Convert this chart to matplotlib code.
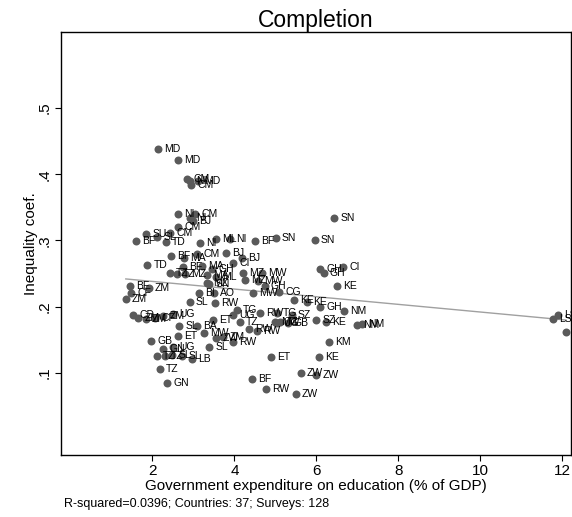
import matplotlib.pyplot as plt

plt.rcParams['font.family'] = ['Liberation Sans', 'DejaVu Sans']

# government expenditure on education (% of GDP), one entry per survey
exp_gdp = [2.13, 2.62, 2.84, 2.91, 3.11, 2.94, 2.62, 3.04, 2.91, 2.99,
           2.62, 1.84, 2.11, 2.43, 1.60, 2.33, 3.16, 3.55, 3.89, 4.50,
           5.01, 5.96, 6.43,
           2.45, 2.77, 3.09, 1.87, 2.43, 2.79, 2.60, 2.74, 3.21, 3.45,
           3.55, 3.33, 3.33, 3.38, 1.45, 1.91, 1.48, 1.35, 3.13, 3.50,
           2.91, 3.52, 1.52, 1.65, 1.84, 2.06, 2.50, 2.26, 2.65, 3.09,
           3.48,
           4.18, 3.96, 3.79, 4.21, 4.26, 4.67, 4.57, 4.74, 4.45, 5.09,
           5.45, 5.77, 6.09, 6.67, 6.09, 6.18, 6.65, 6.50, 4.06, 4.62,
           5.04, 5.40, 3.96, 4.13, 5.05, 5.30, 4.99, 5.11, 5.99, 6.23,
           6.99, 7.11, 3.96, 4.35, 4.55, 6.30, 4.89, 6.06, 5.62, 5.99,
           4.43, 4.77, 5.50,
           2.62, 1.96, 3.26, 3.55, 3.72, 2.50, 3.38, 2.26, 2.11, 2.30,
           2.48, 2.72, 2.96, 2.18, 2.35,
           11.89, 11.77, 12.09]

# inequality coefficient
ineq = [0.438, 0.421, 0.393, 0.390, 0.390, 0.384, 0.340, 0.340, 0.334, 0.329,
        0.320, 0.310, 0.305, 0.311, 0.299, 0.298, 0.296, 0.302, 0.302, 0.299,
        0.304, 0.301, 0.334,
        0.277, 0.274, 0.280, 0.263, 0.251, 0.249, 0.249, 0.260, 0.262, 0.257,
        0.245, 0.248, 0.236, 0.234, 0.231, 0.228, 0.221, 0.212, 0.221, 0.221,
        0.207, 0.206, 0.188, 0.183, 0.182, 0.183, 0.189, 0.186, 0.171, 0.171,
        0.180,
        0.274, 0.266, 0.281, 0.251, 0.240, 0.251, 0.239, 0.231, 0.221, 0.222,
        0.210, 0.207, 0.200, 0.194, 0.257, 0.251, 0.260, 0.231, 0.195, 0.191,
        0.191, 0.188, 0.188, 0.177, 0.175, 0.175, 0.177, 0.177, 0.180, 0.177,
        0.172, 0.174, 0.147, 0.166, 0.163, 0.147, 0.124, 0.124, 0.100, 0.097,
        0.091, 0.076, 0.068,
        0.156, 0.148, 0.160, 0.153, 0.154, 0.139, 0.139, 0.136, 0.126, 0.126,
        0.127, 0.126, 0.121, 0.106, 0.085,
        0.188, 0.182, 0.162]

country = ['MD', 'MD', 'CM', 'NI', 'MD', 'CM', 'NI', 'CM', 'NI', 'BJ',
           'CM', 'SU', 'SL', 'CM', 'BF', 'TD', 'NI', 'ML', 'NI', 'BF',
           'SN', 'SN', 'SN',
           'BF', 'MA', 'CM', 'TD', 'TZ', 'MZ', 'TZ', 'BF', 'MA', 'GH',
           'ML', 'MA', 'MZ', 'SN', 'BF', 'ZM', 'CF', 'ZM', 'BI', 'AO',
           'SL', 'RW', 'CD', 'ZM', 'ZM', 'CF', 'UG', 'ZM', 'SL', 'BA',
           'ET',
           'BJ', 'CI', 'BJ', 'MZ', 'MZ', 'MW', 'MW', 'GH', 'MW', 'CG',
           'KE', 'KE', 'GH', 'NM', 'GH', 'GH', 'CI', 'KE', 'TG', 'RW',
           'TG', 'SZ', 'UG', 'TZ', 'UG', 'GB', 'MW', 'TZ', 'SZ', 'KE',
           'NM', 'NM', 'RW', 'RW', 'RW', 'KM', 'ET', 'KE', 'ZW', 'ZW',
           'BF', 'RW', 'ZW',
           'ET', 'GB', 'MW', 'ZW', 'ZM', 'UG', 'SL', 'GN', 'TZ', 'TZ',
           'SL', 'SL', 'LB', 'TZ', 'GN',
           'LS', 'LS', 'LS']

# fitted line
fit_intercept = 0.2498
fit_slope = -0.00577

fig = plt.figure(figsize=(5.72, 5.17), dpi=100)
ax = fig.add_axes([0.106, 0.1207, 0.892, 0.818])

ax.scatter(exp_gdp, ineq, s=33, color='#5a5a5a', linewidths=0, zorder=3)
for x, y, lbl in zip(exp_gdp, ineq, country):
    ax.annotate(lbl, (x, y), xytext=(4.5, 0), textcoords='offset points',
                va='center', ha='left', fontsize=7.5, zorder=4,
                annotation_clip=False)

x0, x1 = min(exp_gdp), max(exp_gdp)
ax.plot([x0, x1], [fit_intercept + fit_slope * x0, fit_intercept + fit_slope * x1],
        color='#a0a0a0', lw=1, zorder=2)

ax.set_xlim(-0.24, 12.21)
ax.set_ylim(-0.023, 0.615)
ax.set_xticks([2, 4, 6, 8, 10, 12])
ax.set_yticks([0.1, 0.2, 0.3, 0.4, 0.5])
ax.set_yticklabels(['.1', '.2', '.3', '.4', '.5'], rotation=90, va='center')
ax.tick_params(direction='out', length=4.5, width=0.8, labelsize=11, pad=2)
for sp in ax.spines.values():
    sp.set_linewidth(1)

ax.set_xlabel('Government expenditure on education (% of GDP)', fontsize=11, labelpad=1)
ax.set_ylabel('Inequality coef.', fontsize=11, labelpad=0)
ax.set_title('Completion', fontsize=16.5, pad=3)

fig.text(0.112, 0.019, 'R-squared=0.0396; Countries: 37; Surveys: 128', fontsize=9)

fig.savefig('out.png', dpi=100)
